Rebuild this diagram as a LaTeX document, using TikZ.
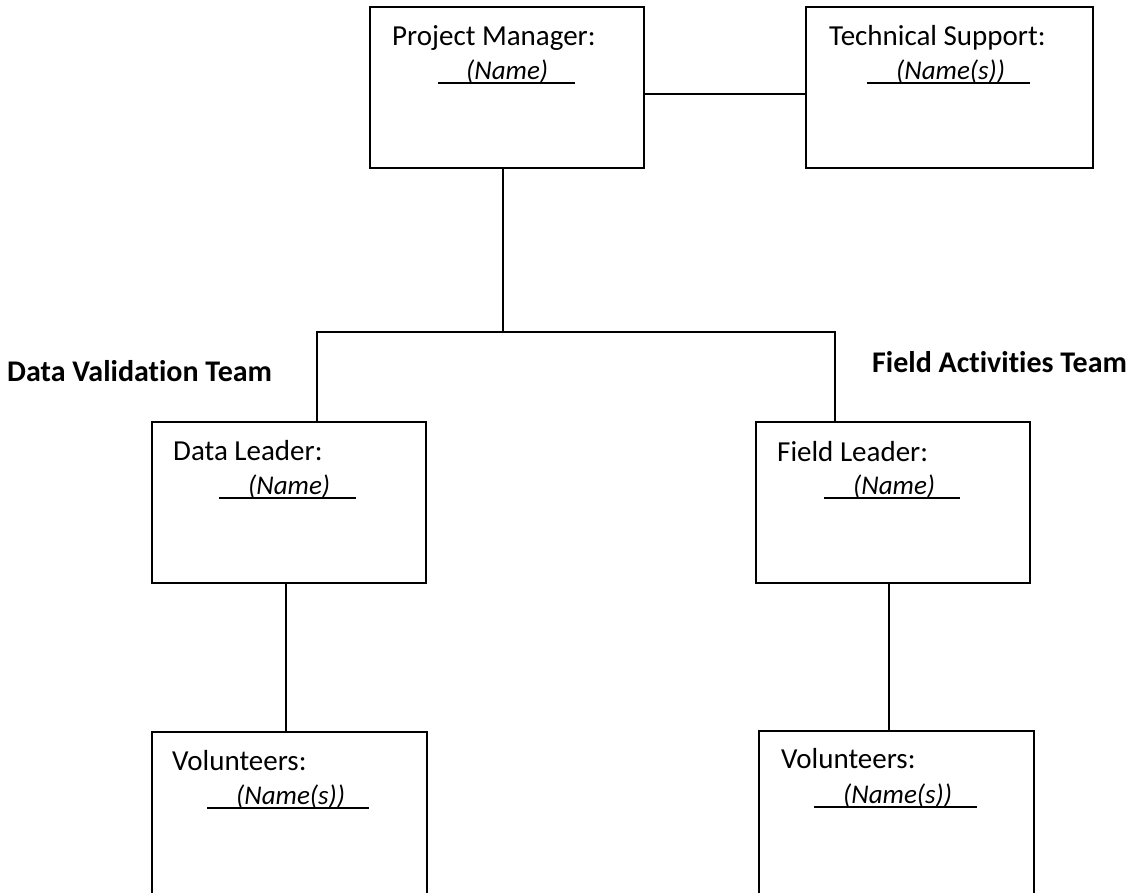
\documentclass[tikz,border=0pt]{standalone}
\usepackage{fontspec}
\setmainfont{Carlito}[Ligatures=NoCommon]
\usetikzlibrary{calc}
\begin{document}
\begin{tikzpicture}[x=1pt,y=-1pt,
  orgbox/.style={draw, line width=2.6pt, rectangle, inner sep=0pt, outer sep=0pt,
    anchor=north west, minimum width=274pt, minimum height=161pt},
  conn/.style={draw, line width=1.8pt},
  uline/.style={draw, line width=1.6pt},
  roletext/.style={anchor=base west, inner sep=0pt, font=\fontsize{29}{34}\selectfont},
  nametext/.style={anchor=base west, inner sep=0pt, font=\fontsize{27}{32}\selectfont\itshape},
  teamtext/.style={anchor=base west, inner sep=0pt, font=\fontsize{30}{35}\selectfont\bfseries}]
\clip (0,0) rectangle (1126,892);
\fill[white] (0,0) rectangle (1126,892);

% boxes
\node[orgbox] (PM) at (370,7) {};
\node[orgbox, minimum width=287pt] (TS) at (806,7) {};
\node[orgbox] (DL) at (152,422) {};
\node[orgbox] (FL) at (756,422) {};
\node[orgbox, minimum width=275pt, minimum height=200pt] (VL) at (152,732) {};
\node[orgbox, minimum width=275pt, minimum height=200pt] (VR) at (759,731) {};

% texts in boxes
\node[roletext] (PMt) at ($(PM.north west)+(22,38)$) {Project Manager:};
\node[nametext] (PMn) at ($(PM.north west)+(96,72)$) {(Name)};
\draw[uline] ($(PM.north west)+(68,76)$) -- ($(PM.north west)+(205,76)$);

\node[roletext] (TSt) at ($(TS.north west)+(23,38)$) {Technical Support:};
\node[nametext] (TSn) at ($(TS.north west)+(90,72)$) {(Name(s))};
\draw[uline] ($(TS.north west)+(61,76)$) -- ($(TS.north west)+(224,76)$);

\node[roletext] (DLt) at ($(DL.north west)+(21,38)$) {Data Leader:};
\node[nametext] (DLn) at ($(DL.north west)+(96,72)$) {(Name)};
\draw[uline] ($(DL.north west)+(67,76)$) -- ($(DL.north west)+(204,76)$);

\node[roletext] (FLt) at ($(FL.north west)+(21,39)$) {Field Leader:};
\node[nametext] (FLn) at ($(FL.north west)+(97,72)$) {(Name)};
\draw[uline] ($(FL.north west)+(68,76)$) -- ($(FL.north west)+(204,76)$);

\node[roletext] (VLt) at ($(VL.north west)+(20,38)$) {Volunteers:};
\node[nametext] (VLn) at ($(VL.north west)+(84,72)$) {(Name(s))};
\draw[uline] ($(VL.north west)+(55,76)$) -- ($(VL.north west)+(217,76)$);

\node[roletext] (VRt) at ($(VR.north west)+(22,37)$) {Volunteers:};
\node[nametext] (VRn) at ($(VR.north west)+(84,72)$) {(Name(s))};
\draw[uline] ($(VR.north west)+(55,76)$) -- ($(VR.north west)+(218,76)$);

% team labels
\node[teamtext] (DVT) at (7,381) {Data Validation Team};
\node[teamtext] (FAT) at (872,372) {Field Activities Team};

% connectors
\coordinate (J) at (503,332);
\coordinate (JL) at (317,332);
\coordinate (JR) at (835,332);
\draw[conn] (PM.east |- 0,94) -- (TS.west |- 0,94);
\draw[conn] (PM.south -| J) -- (J);
\draw[conn] (DL.north -| JL) -- (JL) -- (JR) -- (FL.north -| JR);
\draw[conn] (DL.south -| 286,0) -- (VL.north -| 286,0);
\draw[conn] (FL.south -| 889,0) -- (VR.north -| 889,0);
\end{tikzpicture}
\end{document}
